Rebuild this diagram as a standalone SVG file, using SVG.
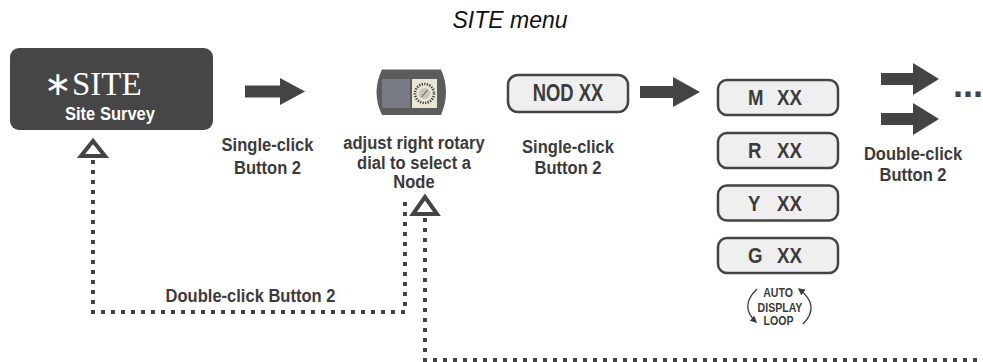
<svg xmlns="http://www.w3.org/2000/svg" width="983" height="362" viewBox="0 0 983 362">
<defs>
<style>
.lbl{font-family:"Liberation Sans",Arial,sans-serif;font-weight:bold;font-size:19px;fill:#3b3b3b;text-anchor:middle}
.box{fill:#efefef;stroke:#444;stroke-width:2.5}
.bt{font-family:"Liberation Sans",Arial,sans-serif;font-weight:bold;font-size:23px;fill:#3b3b3b}
.arr{fill:#444}
.dot{fill:none;stroke:#444;stroke-width:4;stroke-dasharray:4 6}
.tri{fill:#fff;stroke:#444;stroke-width:4;stroke-linejoin:miter}
.small{font-family:"Liberation Sans",Arial,sans-serif;font-weight:bold;font-size:12px;fill:#3b3b3b;text-anchor:middle}
</style>
<marker id="ah" viewBox="0 0 10 10" refX="8" refY="5" markerWidth="7" markerHeight="7" markerUnits="userSpaceOnUse" orient="auto">
<path d="M0,0 L10,5 L0,10 Z" fill="#3b3b3b"/>
</marker>
</defs>
<rect width="983" height="362" fill="#fff"/>

<text x="510" y="28" font-family="'Liberation Sans',Arial,sans-serif" font-style="italic" font-size="23" fill="#111" text-anchor="middle">SITE menu</text>

<g id="connectors">
<polyline class="dot" points="93,160 93,312 405,312 405,200"/>
<polyline class="dot" points="425,218 425,360 983,360"/>
<polygon class="tri" points="93,141 81,156 105,156"/>
<polygon class="tri" points="425,197 413,214 437,214"/>
<polygon class="arr" points="245,85.5 280,85.5 280,78 305,91.5 280,105 280,97.5 245,97.5"/>
<polygon class="arr" points="640,86 673,86 673,77 700,92 673,107 673,98 640,98"/>
<polygon class="arr" points="881,73 913,73 913,63 939,79 913,95 913,85 881,85"/>
<polygon class="arr" points="881,113 913,113 913,103 939,119 913,135 913,125 881,125"/>
<text x="953" y="97" font-family="'Liberation Sans',Arial,sans-serif" font-weight="bold" font-size="36" fill="#444">...</text>
</g>

<g id="site">
<rect x="10" y="48" width="203" height="82" rx="9" fill="#464646"/>
<text x="44" y="95" font-family="'Liberation Serif','Times New Roman',serif" font-size="33" fill="#fff">∗SITE</text>
<text class="lbl" transform="translate(110,120) scale(0.87,1)" style="fill:#fff">Site Survey</text>
</g>

<g id="label-single1">
<text class="lbl" transform="translate(267.5,151) scale(0.87,1)">Single-click</text>
<text class="lbl" transform="translate(267.5,174) scale(0.87,1)">Button 2</text>
</g>

<g id="dial">
<path d="M382,69.5 L441,69.5 Q451,92 441,115 L382,115 Q371,92 382,69.5 Z" fill="#5c5c5c"/>
<rect x="382" y="79" width="28" height="29" fill="#787b85"/>
<rect x="412" y="79" width="25" height="29" fill="#e9e6d3"/>
<circle cx="424.5" cy="93.5" r="9.5" fill="none" stroke="#3a3a3a" stroke-width="2.6" stroke-dasharray="1.2 1.4"/>
<circle cx="424.5" cy="93.5" r="5.5" fill="#c8c6bb"/>
<line x1="421.5" y1="97" x2="427.5" y2="90" stroke="#555" stroke-width="1"/>
</g>

<g id="label-rotary">
<text class="lbl" transform="translate(414,149) scale(0.87,1)">adjust right rotary</text>
<text class="lbl" transform="translate(414,168.5) scale(0.87,1)">dial to select a</text>
<text class="lbl" transform="translate(414,188) scale(0.87,1)">Node</text>
</g>

<g id="nod">
<rect class="box" x="508" y="75" width="120" height="37" rx="10"/>
<text class="bt" transform="translate(568,101) scale(0.8,1)" text-anchor="middle">NOD XX</text>
</g>

<g id="label-single2">
<text class="lbl" transform="translate(568,153) scale(0.87,1)">Single-click</text>
<text class="lbl" transform="translate(568,174) scale(0.87,1)">Button 2</text>
</g>

<g id="m">
<rect class="box" x="718" y="80" width="120" height="35" rx="9"/>
<text class="bt" transform="translate(748,105) scale(0.81,1)">M</text>
<text class="bt" transform="translate(777,105) scale(0.81,1)">XX</text>
</g>
<g id="r">
<rect class="box" x="718" y="133" width="120" height="35" rx="9"/>
<text class="bt" transform="translate(748,158) scale(0.81,1)">R</text>
<text class="bt" transform="translate(777,158) scale(0.81,1)">XX</text>
</g>
<g id="y">
<rect class="box" x="718" y="185.5" width="120" height="35" rx="9"/>
<text class="bt" transform="translate(748,210.5) scale(0.81,1)">Y</text>
<text class="bt" transform="translate(777,210.5) scale(0.81,1)">XX</text>
</g>
<g id="g">
<rect class="box" x="718" y="238" width="120" height="35" rx="9"/>
<text class="bt" transform="translate(748,263) scale(0.81,1)">G</text>
<text class="bt" transform="translate(777,263) scale(0.81,1)">XX</text>
</g>

<g id="autoloop">
<path d="M757,289 Q739,306 756,322" fill="none" stroke="#3b3b3b" stroke-width="1.3" marker-end="url(#ah)"/>
<path d="M803,324 Q821,306 799,289" fill="none" stroke="#3b3b3b" stroke-width="1.3" marker-end="url(#ah)"/>
<text class="small" transform="translate(778,297) scale(0.88,1)">AUTO</text>
<text class="small" transform="translate(780,311.5) scale(0.88,1)">DISPLAY</text>
<text class="small" transform="translate(778.5,325) scale(0.88,1)">LOOP</text>
</g>

<g id="label-double">
<text class="lbl" transform="translate(913,160) scale(0.87,1)">Double-click</text>
<text class="lbl" transform="translate(913,181) scale(0.87,1)">Button 2</text>
</g>

<g id="label-double-loop">
<text class="lbl" transform="translate(250.5,302) scale(0.87,1)">Double-click Button 2</text>
</g>
</svg>
